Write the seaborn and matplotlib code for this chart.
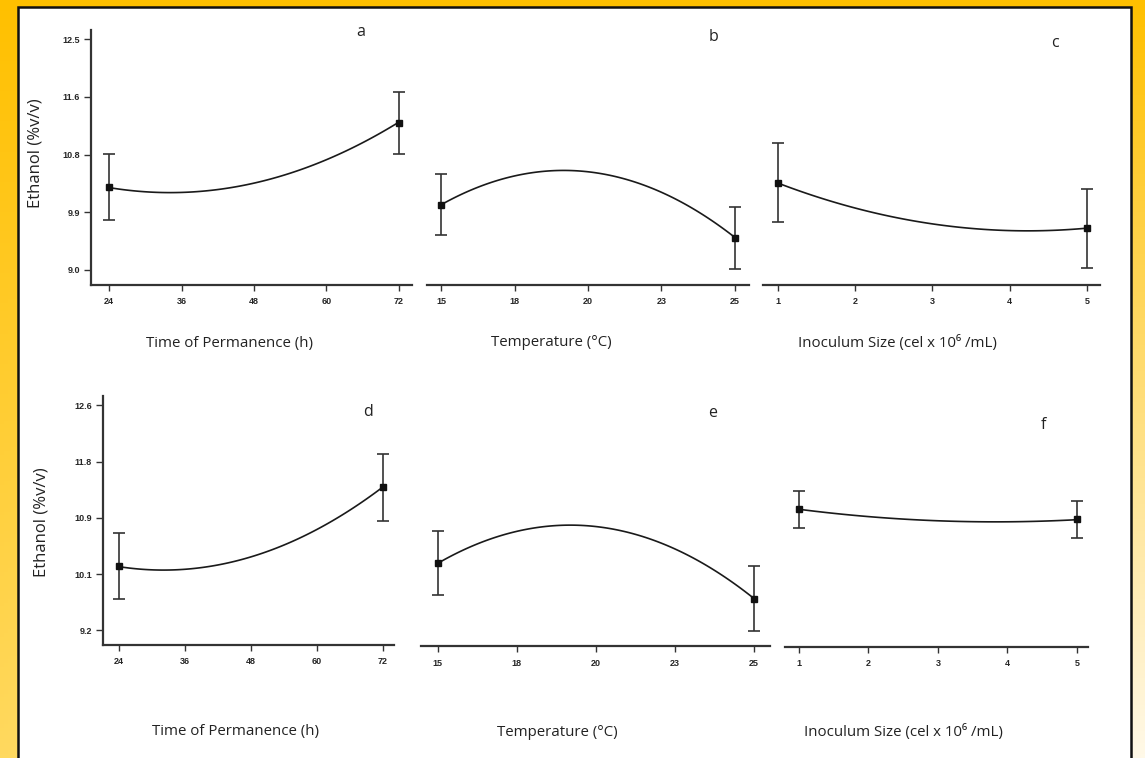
import numpy as np
import matplotlib
matplotlib.use('Agg')
import matplotlib.pyplot as plt
import matplotlib.patches as mpatches
import seaborn as sns

# x levels of each factor
time_x = [24, 36, 48, 60, 72]
temp_x = [15, 17.5, 20, 22.5, 25]
inoc_x = [1, 2, 3, 4, 5]
temp_labels = ['15', '18', '20', '23', '25']

# measured means (+/- error) at the two ends of each factor
a_mean, a_err = [10.26, 11.23], [0.50, 0.47]
b_mean, b_err = [9.99, 9.49], [0.46, 0.47]
c_mean, c_err = [10.32, 9.63], [0.60, 0.60]
d_mean, d_err = [10.17, 11.36], [0.50, 0.50]
e_mean, e_err = [10.23, 9.69], [0.48, 0.49]
f_mean, f_err = [11.04, 10.89], [0.27, 0.27]

# fitted curves read at each tick
a_curve = [10.26, 10.15, 10.32, 10.69, 11.23]
b_curve = [9.99, 10.42, 10.49, 10.18, 9.49]
c_curve = [10.32, 9.93, 9.70, 9.60, 9.63]
d_curve = [10.17, 10.11, 10.31, 10.74, 11.36]
e_curve = [10.23, 10.69, 10.78, 10.45, 9.69]
f_curve = [11.04, 10.94, 10.87, 10.85, 10.89]

top_yticks = [9.0, 9.875, 10.75, 11.625, 12.5]
bot_yticks = [9.2, 10.05, 10.9, 11.75, 12.6]

sns.set_style('white')
plt.rcParams['font.family'] = ['Open Sans', 'DejaVu Sans']

W, H = 1145, 758
fig = plt.figure(figsize=(W / 100, H / 100), dpi=100)

# gold gradient background
bg = fig.add_axes([0, 0, 1, 1], zorder=-10)
yy, xx = np.mgrid[0:1:200j, 0:1:300j]
top = np.array([255, 192, 0]) / 255
bl = np.array([255, 217, 95]) / 255
br = np.array([255, 249, 232]) / 255
bottom = bl[None, None, :] * (1 - xx[..., None]) + br[None, None, :] * xx[..., None]
t = yy[..., None]
img = top[None, None, :] * (1 - t) + bottom * t
bg.imshow(img, aspect='auto', extent=[0, 1, 0, 1], origin='upper')
bg.axis('off')

# white panel with black border
fig.patches.append(mpatches.Rectangle((18 / W, -0.05), (1131 - 18) / W, 1.05 - 7 / H,
                                      transform=fig.transFigure, facecolor='white',
                                      edgecolor='#111111', linewidth=1.8, zorder=-5))


def pax(l, r, t, b):
    return fig.add_axes([l / W, 1 - b / H, (r - l) / W, (b - t) / H])


panels = [
    (pax(91, 412, 30, 285), time_x, a_mean, a_err, a_curve, (21.0, 74.2), (8.77, 12.64), True, 'top'),
    (pax(427, 749, 30, 285), temp_x, b_mean, b_err, b_curve, (14.52, 25.48), (8.77, 12.64), False, 'top'),
    (pax(763, 1100, 30, 285), inoc_x, c_mean, c_err, c_curve, (0.806, 5.17), (8.77, 12.64), False, 'top'),
    (pax(103, 394, 396, 645), time_x, d_mean, d_err, d_curve, (21.1, 74.0), (8.98, 12.74), True, 'bot'),
    (pax(421, 770, 396, 646), temp_x, e_mean, e_err, e_curve, (14.47, 25.51), (8.98, 12.74), False, 'bot'),
    (pax(785, 1088, 396, 647), inoc_x, f_mean, f_err, f_curve, (0.80, 5.16), (8.98, 12.74), False, 'bot'),
]

tick_font = {'family': ['Liberation Sans', 'DejaVu Sans'], 'weight': 'bold', 'size': 6.5}

for ax, xs, mean, err, curve, xlim, ylim, show_y, row in panels:
    ax.set_facecolor('none')
    sns.regplot(x=xs, y=curve, order=2, ci=None, scatter=False, ax=ax,
                color='#1a1a1a', line_kws={'lw': 1.2})
    ax.errorbar([xs[0], xs[-1]], mean, yerr=err, fmt='s', color='#111111',
                ecolor='#333333', elinewidth=1.2, capsize=4.5, capthick=1.2,
                markersize=5, zorder=5)
    ax.set_xlim(*xlim)
    ax.set_ylim(*ylim)
    for s in ['top', 'right']:
        ax.spines[s].set_visible(False)
    ax.spines['bottom'].set_color('#333333')
    ax.spines['bottom'].set_linewidth(1.6)
    ax.set_xticks(xs)
    if xs is temp_x:
        ax.set_xticklabels(temp_labels)
    else:
        ax.set_xticklabels([str(v) for v in xs])
    if show_y:
        ax.spines['left'].set_color('#333333')
        ax.spines['left'].set_linewidth(1.6)
        ax.set_yticks(top_yticks if row == 'top' else bot_yticks)
        ax.yaxis.set_major_formatter(matplotlib.ticker.FormatStrFormatter('%.1f'))
        ax.tick_params(axis='y', direction='out', length=5, width=1, color='#333333', pad=3,
                       left=True)
    else:
        ax.spines['left'].set_visible(False)
        ax.set_yticks([])
    ax.tick_params(axis='x', direction='out', length=4, width=1, color='#333333', pad=5,
                   bottom=True)
    for lab in ax.get_xticklabels() + ax.get_yticklabels():
        lab.set_fontproperties(matplotlib.font_manager.FontProperties(**tick_font))
    ax.set_xlabel('')
    ax.set_ylabel('')


def ftext(x, y, s, **kw):
    fig.text(x / W, 1 - y / H, s, ha='center', va='center', color='#222222', **kw)


ftext(361, 32, 'a', fontsize=11.5)
ftext(713, 37, 'b', fontsize=11.5)
ftext(1055, 43, 'c', fontsize=11.5)
ftext(368, 412, 'd', fontsize=11.5)
ftext(713, 413, 'e', fontsize=11.5)
ftext(1043, 425, 'f', fontsize=11.5)

ftext(229, 343, 'Time of Permanence (h)', fontsize=10.8)
ftext(551, 343, 'Temperature (°C)', fontsize=10.8)
ftext(897, 343, 'Inoculum Size (cel x 10⁶ /mL)', fontsize=10.8)
ftext(235, 732, 'Time of Permanence (h)', fontsize=10.8)
ftext(557, 732, 'Temperature (°C)', fontsize=10.8)
ftext(903, 732, 'Inoculum Size (cel x 10⁶ /mL)', fontsize=10.8)

ftext(35, 153, 'Ethanol (%v/v)', fontsize=12, rotation=90)
ftext(42, 522, 'Ethanol (%v/v)', fontsize=12, rotation=90)

fig.savefig('out.png', dpi=100)
